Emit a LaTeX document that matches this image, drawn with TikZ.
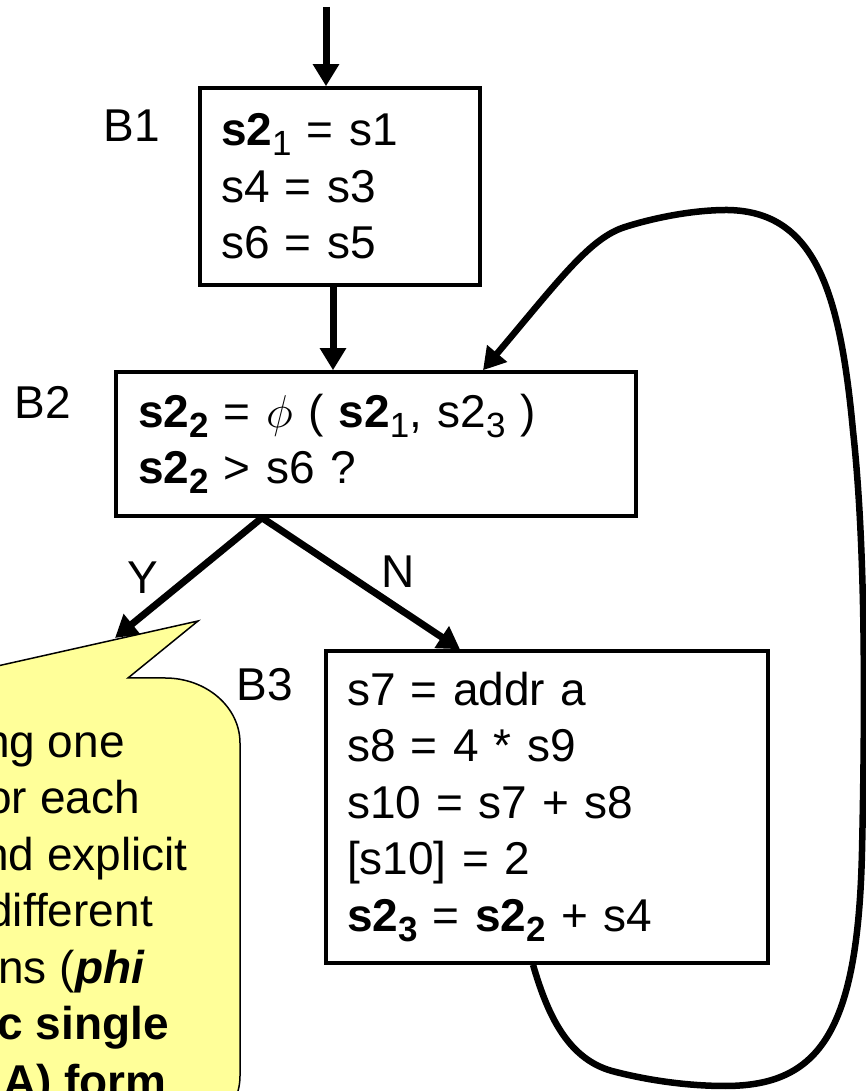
\RequirePackage{fix-cm}
\documentclass[tikz,border=0pt]{standalone}
\usepackage{fontspec}
\setmainfont{Liberation Sans}
\usepackage{xcolor}
\usetikzlibrary{arrows.meta}

\definecolor{noteyellow}{HTML}{FFFF99}
\newcommand{\vsub}[1]{\raisebox{-10pt}{\fontsize{35}{35}\selectfont #1}}

\begin{document}
\begin{tikzpicture}[
        x=1pt, y=1pt,
        every node/.style={font=\fontsize{46}{56.5}\selectfont},
        % 
        block/.style={
            draw,
            line width=3.5pt,
            align=left,
            inner xsep=0pt,
            inner ysep=0pt,
        },
        % 
        block label/.style={anchor=base east, inner sep=0pt},
        edge label/.style={inner sep=0pt},
        note/.style={draw, fill=noteyellow, line width=1.5pt},
        note text/.style={anchor=base east, inner sep=0pt},
        flow edge/.style={->, >={Triangle[length=22pt,width=25pt]}, line width=7pt},
        back edge/.style={->, >={Triangle[length=22pt,width=25pt]}, line width=6.5pt}
        ]
        
        \useasboundingbox (0,0) rectangle (866,1091);
        \clip (0,0) rectangle (866,1091);
        
        % Callout (mostly outside the page)
        
        \draw[note] (-300,413) -- (-56,413) -- (198,470) -- (128,413) -- (165,413)
            arc[start angle=90, end angle=0, x radius=75pt, y radius=65pt] -- (240,15)
            arc[start angle=0, end angle=-90, x radius=75pt, y radius=65pt] -- (-300,-50) -- cycle;
        \coordinate (noteY) at (115,453);
        
        \node[note text] (note1) at (125,333) {ng one};
        \node[note text] (note2) at (140,277) {or each};
        \node[note text] (note3) at (188,220) {nd explicit};
        \node[note text] (note4) at (153,164) {different};
        \node[note text] (note5) at (145,107) {ns (\textbf{\textit{phi}}};
        \node[note text] (note6) at (169,51) {\textbf{c single}};
        \node[note text] (note7) at (167,-6) {\textbf{A) form}};
        
        % Blocks
        
        \node[block, minimum width=280pt, minimum height=197pt, text width=238pt] (B1) at (340,904.5)
            {\textbf{s2}\vsub{1} = s1\\ s4 = s3\\ s6 = s5};
        \node[block, minimum width=520pt, minimum height=144pt, text width=476pt] (B2) at (376,647)
            {\textbf{s2\vsub{2}} = $\phi$ ( \textbf{s2}\vsub{1}, s2\vsub{3} )\\
             \textbf{s2\vsub{2}} > s6 ?};
        \node[block, minimum width=442pt, minimum height=312pt, text width=400pt] (B3) at (547,284)
            {s7 = addr a\\ s8 = 4 * s9\\ s10 = s7 + s8\\ {[s10] = 2}\\
             \textbf{s2\vsub{3}} = \textbf{s2\vsub{2}} + s4};
        
        \node[block label] (B1-label) at ([shift={(-38pt,-55pt)}]B1.north west) {B1};
        \node[block label] (B2-label) at ([shift={(-43pt,-48pt)}]B2.north west) {B2};
        \node[block label] (B3-label) at ([shift={(-31pt,-51pt)}]B3.north west) {B3};
        
        % Edges
        
        \coordinate (entry) at (326,1084);
        \draw[flow edge] (entry) -- (entry |- B1.north);
        \draw[flow edge] ([xshift=-7pt]B1.south) coordinate (B1-out) -- (B1-out |- B2.north);
        %
        \coordinate (split) at ([xshift=-114pt]B2.south);
        \draw[flow edge] (split) -- node[edge label, xshift=-46pt] {Y} (noteY);
        \draw[flow edge] (split) -- node[edge label, xshift=37pt, yshift=12pt] {N} ([xshift=-87pt]B3.north);
        %
        \draw[back edge] ([xshift=-14pt]B3.south)
            .. controls (546,82) and (565,33) .. (612,20)
            .. controls (650,10) and (690,5) .. (725,5)
            .. controls (820,5) and (858,60) .. (862,240)
            .. controls (866,420) and (864,560) .. (853,660)
            .. controls (840,800) and (815,880) .. (727,881)
            .. controls (690,881) and (650,872) .. (625,864)
            .. controls (590,853) and (560,812) .. ([xshift=107pt]B2.north);
        % 
    \end{tikzpicture}
\end{document}
